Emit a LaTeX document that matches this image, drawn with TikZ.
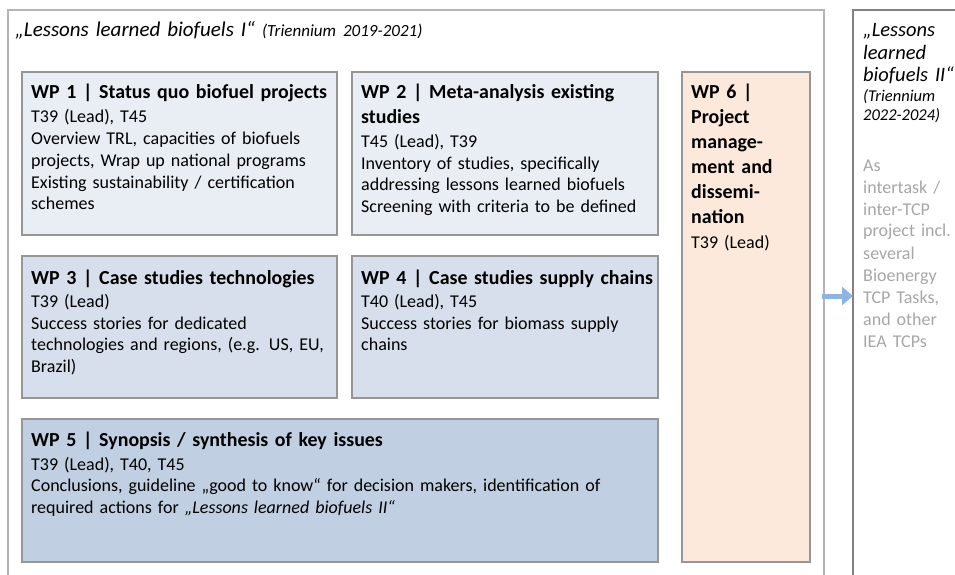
\documentclass[tikz,border=0pt]{standalone}
\usepackage{fontspec}
\setmainfont{Carlito}
\usetikzlibrary{arrows.meta}
\definecolor{wpA}{RGB}{233,237,244}
\definecolor{wpB}{RGB}{214,223,235}
\definecolor{wpC}{RGB}{193,207,226}
\definecolor{wpF}{RGB}{252,233,220}
\definecolor{boxline}{RGB}{150,150,150}
\definecolor{outerline}{RGB}{180,180,180}
\definecolor{nextline}{RGB}{130,130,130}
\definecolor{greytext}{RGB}{166,166,166}
\definecolor{arrowblue}{RGB}{142,180,227}
\tikzset{
  frame/.style={rectangle, inner sep=0, outer sep=0, anchor=north west},
  wpbox/.style={frame, draw=boxline, line width=1.3pt},
  hd/.style={anchor=base west, inner sep=0, text width=420pt, align=left,
    font=\fontsize{19.9}{25}\selectfont\bfseries},
  bd/.style={anchor=base west, inner sep=0, text width=620pt, align=left,
    font=\fontsize{18}{21.7}\selectfont},
  ttl/.style={anchor=base west, inner sep=0, text width=600pt, align=left,
    font=\fontsize{20.5}{22.5}\selectfont\itshape},
  sml/.style={anchor=base west, inner sep=0, text width=200pt, align=left,
    font=\fontsize{16.5}{19}\selectfont\itshape},
  grey/.style={anchor=base west, inner sep=0, text width=200pt, align=left,
    text=greytext, font=\fontsize{18}{22}\selectfont},
  arr/.style={draw=arrowblue, line width=5pt, -{Triangle[length=11pt,width=18pt,fill=arrowblue]}},
}
\begin{document}
\begin{tikzpicture}[x=1pt,y=-1pt]
\useasboundingbox (0,0) rectangle (955,575);
\clip (0,0) rectangle (955,575);
% outer frames
\node[frame, draw=outerline, line width=1.2pt, minimum width=816pt, minimum height=600pt] (outer) at (8,10) {};
\node[frame, draw=nextline, line width=1.2pt, minimum width=130pt, minimum height=600pt] (next) at (853,10) {};
% title
\node[ttl, font=\fontsize{21}{23}\selectfont\itshape] (title) at (15,37) {„Lessons learned biofuels I“ {\fontsize{17}{19}\selectfont(Triennium 2019-2021)}};
% WP boxes
\node[wpbox, fill=wpA, minimum width=315pt, minimum height=163pt] (wp1) at (22,72) {};
\node[wpbox, fill=wpA, minimum width=306pt, minimum height=163pt] (wp2) at (352,72) {};
\node[wpbox, fill=wpF, minimum width=128pt, minimum height=490pt] (wp6) at (682,72) {};
\node[wpbox, fill=wpB, minimum width=315pt, minimum height=142pt] (wp3) at (22,256) {};
\node[wpbox, fill=wpB, minimum width=306pt, minimum height=142pt] (wp4) at (352,256) {};
\node[wpbox, fill=wpC, minimum width=636pt, minimum height=143pt] (wp5) at (22,419) {};
% WP1
\node[hd] (h1) at (31,99) {WP 1 | Status quo biofuel projects};
\node[bd] (b1) at (31,123) {T39 (Lead), T45\\Overview TRL, capacities of biofuels\\projects, Wrap up national programs\\Existing sustainability / certification\\schemes};
% WP2
\node[hd] (h2) at (361,99) {WP 2 | Meta-analysis existing\\studies};
\node[bd] (b2) at (361,147.5) {T45 (Lead), T39\\Inventory of studies, specifically\\addressing lessons learned biofuels\\Screening with criteria to be defined};
% WP6
\node[hd] (h6) at (691,99) {WP 6 |\\Project\\manage-\\ment and\\dissemi-\\nation};
\node[bd] (b6) at (691,248) {T39 (Lead)};
% WP3
\node[hd] (h3) at (31,284) {WP 3 | Case studies technologies};
\node[bd] (b3) at (31,307.5) {T39 (Lead)\\Success stories for dedicated\\technologies and regions, (e.g. US, EU,\\Brazil)};
% WP4
\node[hd] (h4) at (361,284) {WP 4 | Case studies supply chains};
\node[bd] (b4) at (361,307.5) {T40 (Lead), T45\\Success stories for biomass supply\\chains};
% WP5
\node[hd] (h5) at (31,446) {WP 5 | Synopsis / synthesis of key issues};
\node[bd] (b5) at (31,470) {T39 (Lead), T40, T45\\Conclusions, guideline „good to know“ for decision makers, identification of\\required actions for \textit{„Lessons learned biofuels II“}};
% next triennium
\node[ttl] (n1) at (863,37) {„Lessons\\learned\\biofuels II“};
\node[sml] (n2) at (863,102) {(Triennium\\2022-2024)};
\node[grey] (n3) at (863,171) {As\\intertask /\\inter-TCP\\project incl.\\several\\Bioenergy\\TCP Tasks,\\and other\\IEA TCPs};
% arrow
\coordinate (ay) at (0,296);
\draw[arr] ([xshift=-2pt]outer.east |- ay) -- (next.west |- ay);
\end{tikzpicture}
\end{document}
